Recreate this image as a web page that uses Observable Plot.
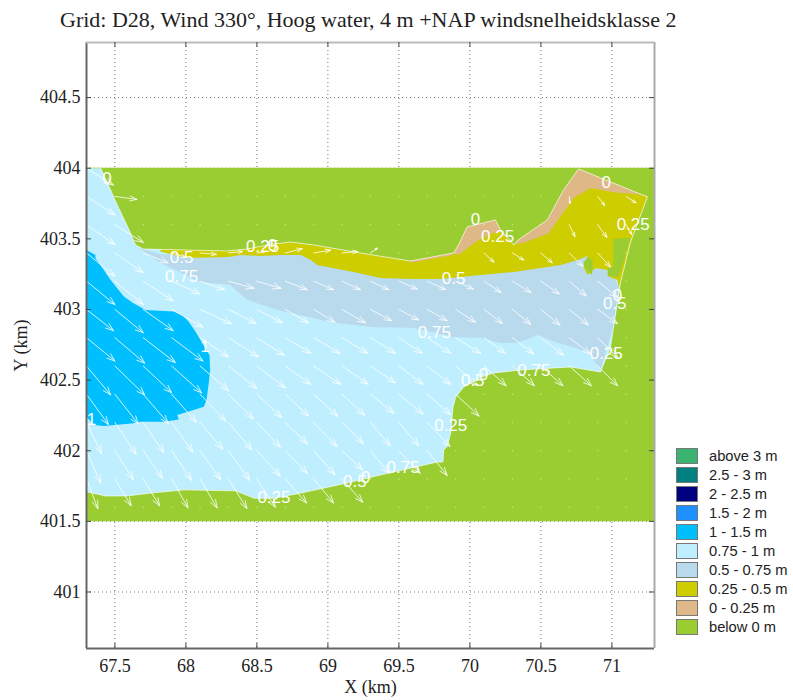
<!DOCTYPE html>
<html><head><meta charset="utf-8">
<script src="https://cdn.jsdelivr.net/npm/d3@7"></script>
<script src="https://cdn.jsdelivr.net/npm/@observablehq/plot@0.6"></script>
<style>
html,body{margin:0;padding:0;background:#fff}
#page{position:relative;width:793px;height:700px;overflow:hidden}
#title{height:40px;font:22px/40px "Liberation Serif",serif;color:#222;padding-left:60px;white-space:nowrap;box-sizing:border-box}
#legend{position:absolute;left:676px;top:446px;font:14.7px "Liberation Sans",sans-serif;color:#222}
.row{display:flex;align-items:center;height:19px}
.sw{width:20px;height:14px;border:1.5px solid #777;margin-right:11px;flex:none}
.lb{white-space:nowrap}
svg{display:block}
</style></head><body>
<div id="page"><div id="title"></div><div id="chart"></div><div id="legend"></div></div>
<script>
const titleText = "Grid: D28, Wind 330°, Hoog water, 4 m +NAP windsnelheidsklasse 2";
const xTicks = [67.5,68,68.5,69,69.5,70,70.5,71];
const yTicks = [401,401.5,402,402.5,403,403.5,404,404.5];
const xDomain = [67.3,71.3];
const yDomain = [400.6,404.89];

const legendLabels = ["above 3 m","2.5 - 3 m","2 - 2.5 m","1.5 - 2 m","1 - 1.5 m","0.75 - 1 m","0.5 - 0.75 m","0.25 - 0.5 m","0 - 0.25 m","below 0 m"];
const legendColors = ["#3CB371","#008080","#000080","#1E90FF","#00BFFF","#BFEFFF","#B9D9EC","#CDCD00","#DEB887","#9ACD32"];

const landBox = [[67.3,404.004],[71.3,404.004],[71.3,401.5],[67.3,401.5]];
const waterEdge = [[67.30,404],[67.40,404],[67.47,403.846],[67.50,403.775],[67.60,403.563],[67.645,403.457],[67.70,403.428],[68.29,403.414],[68.43,403.428],[68.575,403.457],[68.735,403.478],[68.90,403.457],[69.23,403.40],[69.58,403.343],[69.885,403.40],[69.92,403.457],[69.98,403.584],[70.18,403.634],[70.215,403.563],[70.31,403.457],[70.34,403.492],[70.545,403.634],[70.66,403.846],[70.765,403.995],[71.25,403.797],[71.13,403.474],[71.06,403.188],[70.99,402.735],[70.92,402.557],[70.71,402.593],[70.355,402.572],[70.165,402.55],[70.075,402.52],[69.955,402.45],[69.90,402.38],[69.88,402.30],[69.865,402.125],[69.84,402.03],[69.815,402.005],[69.81,401.92],[69.77,401.92],[69.42,401.84],[69.07,401.757],[68.808,401.70],[68.62,401.664],[68.48,401.664],[68.42,401.688],[68.35,401.716],[67.986,401.723],[67.751,401.70],[67.586,401.68],[67.434,401.68],[67.30,401.71]];
const deepPatch = [[67.30,403.421],[67.363,403.386],[67.363,403.362],[67.422,403.28],[67.47,403.209],[67.516,403.15],[67.563,403.091],[67.622,403.049],[67.716,402.997],[67.915,402.985],[67.974,402.961],[68.02,402.914],[68.068,402.843],[68.103,402.784],[68.166,402.678],[68.171,402.572],[68.161,402.477],[68.145,402.359],[68.126,402.312],[68.044,402.284],[67.939,402.253],[67.95,402.222],[67.845,402.205],[67.68,402.205],[67.633,402.194],[67.422,402.175],[67.352,402.182],[67.30,402.241]];
const midPatch = [[67.66,403.443],[67.82,403.39],[68.3,403.40],[68.76,403.43],[69.2,403.38],[70.0,403.3],[70.76,403.4],[71.0,403.3],[71.045,403.152],[71.01,402.876],[70.92,402.572],[70.83,402.70],[70.60,402.77],[70.475,402.82],[70.335,402.763],[70.215,402.763],[70.075,402.80],[69.885,402.805],[69.60,402.87],[69.32,402.875],[69.02,402.91],[68.81,402.96],[68.645,402.996],[68.435,403.067],[68.31,403.174],[68.10,403.195],[67.82,403.33]];
const shallowPatch = [[67.82,403.428],[68.29,403.414],[68.43,403.428],[68.575,403.457],[68.735,403.478],[68.90,403.457],[69.23,403.40],[69.58,403.343],[69.885,403.40],[69.92,403.457],[69.98,403.584],[70.18,403.634],[70.215,403.563],[70.31,403.457],[70.34,403.492],[70.545,403.634],[70.66,403.846],[70.765,403.995],[71.25,403.797],[71.13,403.474],[71.06,403.188],[71.045,403.152],[71.04,403.209],[70.97,403.237],[70.97,403.28],[70.885,403.294],[70.83,403.244],[70.80,403.30],[70.83,403.379],[70.76,403.35],[70.64,403.315],[70.31,403.266],[70.075,403.244],[69.79,403.216],[69.60,403.216],[69.37,403.223],[69.18,403.266],[68.925,403.315],[68.88,403.35],[68.81,403.386],[68.665,403.386],[68.525,403.379],[68.385,403.386],[68.30,403.372],[68.0,403.365],[67.82,403.41]];
const beachHill = [[69.885,403.40],[69.92,403.457],[69.98,403.584],[70.18,403.634],[70.215,403.563],[70.31,403.457],[70.215,403.55],[70.16,403.542],[70.04,403.478],[69.92,403.386]];
const beachEast = [[70.31,403.457],[70.34,403.492],[70.545,403.634],[70.66,403.846],[70.765,403.995],[71.25,403.797],[71.235,403.81],[71.01,403.83],[70.85,403.86],[70.73,403.79],[70.555,403.54],[70.38,403.47],[70.31,403.464]];
const beachSliver = [[69.58,403.343],[69.885,403.40],[69.885,403.385],[69.58,403.33]];
const dryPatchA = [[71.01,403.50],[71.13,403.506],[71.075,403.315],[71.045,403.23],[70.975,403.237],[70.97,403.294],[71.01,403.30]];
const dryPatchB = [[70.83,403.372],[70.865,403.35],[70.86,403.244],[70.81,403.294],[70.80,403.33]];

const gridX = [67.3,67.5,67.7,67.9,68.1,68.3,68.5,68.7,68.9,69.1,69.3,69.5,69.7,69.9,70.1,70.3,70.5,70.7,70.9,71.1];
const gridY = [403.8,403.6,403.4,403.2,403.0,402.8,402.6,402.4,402.2,402.0,401.8,401.6];
const uRows = [
[.20,.155,0,0,0,0,0,0,0,0,0,0,0,0,0,0,0,.005,.05,.07],
[.20,.20,0,0,0,0,0,0,0,0,0,0,0,0,0,0,0,.04,.065,.04],
[.20,.20,.175,.10,.115,.10,.06,.12,.12,.11,.05,0,0,0,.07,.08,.08,.095,.09,0],
[.20,.20,.21,.20,.175,.18,.17,.155,.14,.13,.13,.13,.13,.125,.12,.13,.13,.12,.14,0],
[.19,.20,.21,.22,.22,.195,.18,.165,.15,.165,.15,.14,.14,.14,.13,.13,.135,.135,.14,0],
[.20,.21,.225,.22,.20,.21,.195,.18,.185,.18,.175,.165,.165,.175,.15,.15,.16,.15,.14,0],
[.17,.21,.20,.21,.20,.20,.20,.18,.19,.185,.175,.17,.165,.15,.155,.155,.155,.155,.14,0],
[.155,.165,.175,.175,.18,.175,.175,.165,.17,.16,.165,.17,.165,.165,0,0,0,0,0,0],
[.105,.15,.145,.15,.16,.165,.165,.155,.165,.15,.14,.14,.16,0,0,0,0,0,0,0],
[.10,.13,.135,.14,.145,.15,.165,.155,.15,.145,.13,.15,.14,0,0,0,0,0,0,0],
[.08,.115,.115,.115,.12,.13,.13,.15,.14,.145,0,0,0,0,0,0,0,0,0,0],
[0,0,0,0,0,0,0,0,0,0,0,0,0,0,0,0,0,0,0,0]];
const vRows = [
[.13,.02,0,0,0,0,0,0,0,0,0,0,0,0,0,0,0,.05,.065,.045],
[.14,.125,0,0,0,0,0,0,0,0,0,0,0,0,0,0,0,.085,.09,.07],
[.165,.14,.07,.03,.01,-.01,-.01,-.03,-.02,-.01,-.035,0,0,0,.065,.05,.07,.095,.10,0],
[.165,.165,.14,.09,.06,.05,.05,.06,.06,.06,.06,.055,.06,.055,.08,.08,.09,.105,.115,0],
[.15,.165,.15,.125,.10,.10,.095,.095,.09,.095,.08,.075,.08,.09,.10,.105,.11,.11,.10,0],
[.165,.18,.175,.165,.135,.135,.125,.11,.11,.11,.11,.11,.11,.11,.11,.115,.125,.115,.14,0],
[.205,.205,.19,.19,.175,.16,.155,.13,.13,.13,.12,.13,.13,.14,.14,.14,.14,.14,.14,0],
[.215,.21,.205,.20,.19,.175,.165,.155,.155,.15,.135,.14,.145,.155,0,0,0,0,0,0],
[.22,.225,.215,.21,.19,.195,.175,.15,.17,.15,.165,.165,.17,0,0,0,0,0,0,0],
[.23,.205,.195,.21,.205,.21,.18,.16,.17,.135,.16,.16,.175,0,0,0,0,0,0,0],
[.21,.19,.19,.205,.205,.21,.20,.17,.17,.165,0,0,0,0,0,0,0,0,0,0],
[0,0,0,0,0,0,0,0,0,0,0,0,0,0,0,0,0,0,0,0]];
const cornerArrow = [{x:67.3,y:404,u:.19,v:.12}];

const contourText = ["0","0.5","0.75","0.25","0","1","1","0","0.25","0","0.25","0.5","0.75","0","0.5","0.25","0.75","0","0.5","0.25","0.75","0.5","0","0.25"];
const contourX = [67.445,67.97,67.97,68.54,68.61,68.135,67.335,70.04,70.195,70.96,71.15,69.885,69.75,71.04,71.02,70.96,70.45,70.095,70.02,69.865,69.53,69.19,69.265,68.62];
const contourY = [403.93,403.365,403.23,403.445,403.45,402.735,402.22,403.64,403.515,403.90,403.60,403.22,402.84,403.096,403.04,402.69,402.57,402.54,402.50,402.18,401.88,401.785,401.81,401.67];

const arrows = [...cornerArrow];
const calm = [];
gridY.forEach((y,r)=>gridX.forEach((x,c)=>{
  const u=uRows[r][c], v=vRows[r][c];
  if(u===0&&v===0) calm.push({x,y}); else arrows.push({x,y,u,v});
}));
const labels = contourText.map((t,i)=>({t,x:contourX[i],y:contourY[i]}));
const poly = (pts,fill)=>Plot.line(pts,{x:d=>d[0],y:d=>d[1],fill,stroke:"none",curve:"linear"});

const plot = Plot.plot({
  width:793,height:660,marginLeft:86,marginRight:139,marginTop:2,marginBottom:52,
  style:{fontFamily:"Liberation Serif",fontSize:"18px",color:"#222",background:"transparent",overflow:"visible"},
  x:{domain:xDomain,label:null},y:{domain:yDomain,label:null},
  marks:[
    Plot.gridX(xTicks,{stroke:"#666",strokeOpacity:.9,strokeDasharray:"1,3"}),
    Plot.gridY(yTicks,{stroke:"#666",strokeOpacity:.9,strokeDasharray:"1,3"}),
    poly(landBox,"#9ACD32"),
    poly(waterEdge,"#BFEFFF"),
    poly(deepPatch,"#00BFFF"),
    poly(midPatch,"#B9D9EC"),
    poly(shallowPatch,"#CDCD00"),
    poly(beachHill,"#DEB887"),
    poly(beachEast,"#DEB887"),
    poly(beachSliver,"#DEB887"),
    poly(dryPatchA,"#9ACD32"),
    poly(dryPatchB,"#9ACD32"),
    Plot.line(waterEdge.slice(1),{x:d=>d[0],y:d=>d[1],stroke:"#fff",strokeWidth:.8,strokeOpacity:.8}),
    Plot.dot(calm,{x:"x",y:"y",r:.7,fill:"#fff",fillOpacity:.45}),
    Plot.arrow(arrows,{x1:"x",y1:"y",x2:d=>d.x+d.u,y2:d=>d.y-d.v,stroke:"#fff",strokeWidth:.9,strokeOpacity:.9,headLength:14,headAngle:40,bend:0}),
    Plot.text(labels,{x:"x",y:"y",text:"t",fill:"#fff",fontSize:17,fontFamily:"Liberation Sans"}),
    Plot.ruleX([xDomain[0]],{stroke:"#666",strokeWidth:2}),
    Plot.ruleY([yDomain[0]],{stroke:"#666",strokeWidth:2}),
    Plot.ruleX([xDomain[1]],{stroke:"#aaa",strokeWidth:2}),
    Plot.ruleY([yDomain[1]],{stroke:"#bbb",strokeWidth:2}),
    Plot.ruleX(xTicks,{y1:yDomain[0],y2:yDomain[0]+.035,stroke:"#444"}),
    Plot.ruleX(xTicks,{y1:yDomain[1],y2:yDomain[1]-.035,stroke:"#444"}),
    Plot.ruleY(yTicks,{x1:xDomain[0],x2:xDomain[0]+.035,stroke:"#444"}),
    Plot.ruleY(yTicks,{x1:xDomain[1],x2:xDomain[1]-.035,stroke:"#444"}),
    Plot.axisX(xTicks,{tickSize:0,tickPadding:11,tickFormat:d=>String(d),label:"X (km)",labelAnchor:"center",labelArrow:"none",labelOffset:44}),
    Plot.axisY(yTicks,{tickSize:0,tickPadding:6,tickFormat:d=>String(d),label:"Y (km)",labelAnchor:"center",labelArrow:"none",labelOffset:72})
  ]
});
document.getElementById("title").textContent = titleText;
document.getElementById("chart").append(plot);
const lg = d3.select("#legend").selectAll("div").data(legendLabels).join("div").attr("class","row");
lg.append("div").attr("class","sw").style("background",(d,i)=>legendColors[i]);
lg.append("div").attr("class","lb").text(d=>d);
</script></body></html>
